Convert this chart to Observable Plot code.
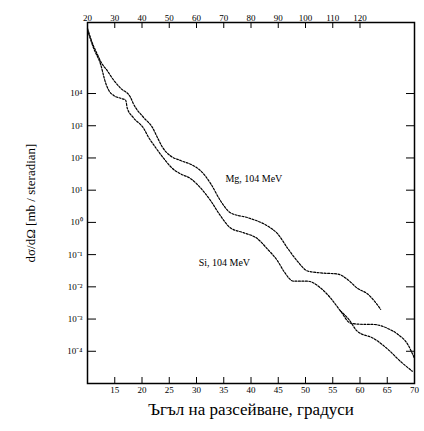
<!DOCTYPE html>
<html>
<head>
<meta charset="utf-8">
<script src="https://cdn.jsdelivr.net/npm/d3@7"></script>
<script src="https://cdn.jsdelivr.net/npm/@observablehq/plot@0.6"></script>
<style>
  body { margin: 0; background: #fff; }
  svg { font-family: "Liberation Serif", serif; }
  g[aria-label="x-axis label"] text { font-size: 17px; }
  g[aria-label="y-axis label"] text { font-size: 13px; }
</style>
</head>
<body>
<div id="chart"></div>
<script>
// Scattering angle (degrees) and cross sections (mb/sr)
const angleA = [10, 11.1, 11.8, 12.4, 13.7, 14.8, 16.1, 17.9, 18.4, 20.3, 21.9, 22.8, 23.8, 25.2, 27.1, 29.4, 30.7, 32.6, 34.4, 36.2, 39.4, 43.0, 44.9, 46.7, 48.5, 50.4, 52.8, 55.9, 57.7, 59.5, 61.4, 63.8];
const sigmaA = [1.05e6, 3.0e5, 1.66e5, 1.0e5, 4.9e4, 2.6e4, 1.45e4, 7.6e3, 4.9e3, 1.8e3, 890, 440, 210, 117, 83, 58, 41, 16, 4.7, 2.0, 1.4, 0.78, 0.44, 0.16, 0.063, 0.031, 0.027, 0.025, 0.017, 0.0091, 0.0060, 0.0020];

const angleB = [10, 11.1, 12.4, 13.3, 13.9, 14.8, 16.1, 17.0, 17.3, 18.4, 20.3, 21.2, 22.5, 24.3, 25.6, 27.1, 28.9, 30.7, 32.6, 34.4, 36.2, 38.6, 41.2, 43.0, 44.9, 46.0, 47.8, 50.4, 52.8, 54.6, 56.4, 58.3, 60.1, 62.5, 65.0, 66.9, 68.7, 70.0];
const sigmaB = [9.3e5, 2.6e5, 8.1e4, 2.2e4, 1.26e4, 8.7e3, 7.1e3, 6.2e3, 3.5e3, 1.8e3, 830, 440, 210, 83, 47, 32, 23, 12, 4.7, 1.6, 0.68, 0.48, 0.31, 0.15, 0.063, 0.031, 0.015, 0.015, 0.0091, 0.0045, 0.0018, 7.4e-4, 6.9e-4, 6.8e-4, 5.2e-4, 3.4e-4, 1.7e-4, 6.0e-5];

const angleC = [56.4, 57.9, 59.5, 62.5, 65.0, 67.4, 69.6];
const sigmaC = [0.0018, 1.0e-3, 4.2e-4, 2.5e-4, 1.2e-4, 4.9e-5, 2.4e-5];

const bottomTicks = [15, 20, 25, 30, 35, 40, 45, 50, 55, 60, 65, 70];
const topTicks = [10, 15, 20, 25, 30, 35, 40, 45, 50, 55, 60];
const topTickLabels = ["20", "30", "40", "50", "60", "70", "80", "90", "100", "110", "120"];
const yTicks = [1e-4, 1e-3, 1e-2, 1e-1, 1, 10, 100, 1e3, 1e4];

const curveLabels = ["Mg, 104 MeV", "Si, 104 MeV"];
const curveLabelAngle = [35.3, 30.4];
const curveLabelSigma = [23, 0.055];

const toRows = (xs, ys, s) => xs.map((x, i) => ({angle: x, sigma: ys[i], series: s}));
const rows = [...toRows(angleA, sigmaA, "A"), ...toRows(angleB, sigmaB, "B"), ...toRows(angleC, sigmaC, "C")];
const labelRows = curveLabels.map((t, i) => ({text: t, angle: curveLabelAngle[i], sigma: curveLabelSigma[i]}));

const sup = {"-": "⁻", "0": "⁰", "1": "¹", "2": "²", "3": "³", "4": "⁴", "5": "⁵", "6": "⁶", "7": "⁷", "8": "⁸", "9": "⁹"};
const fmtPow = d => "10" + String(Math.round(Math.log10(d))).split("").map(c => sup[c]).join("");

const chart = Plot.plot({
  width: 424,
  height: 431,
  marginLeft: 87,
  marginRight: 10,
  marginTop: 22,
  marginBottom: 48,
  style: {fontFamily: "Liberation Serif, serif", fontSize: "9px", color: "#000", background: "#fff"},
  x: {domain: [10, 70]},
  y: {type: "log", domain: [1e-5, 1.6e6]},
  marks: [
    Plot.frame({stroke: "#000", strokeWidth: 1.5}),
    Plot.axisX(bottomTicks, {anchor: "bottom", tickSize: -6, tickPadding: 9, label: "Ъгъл на разсейване, градуси", labelArrow: "none", labelAnchor: "center", labelOffset: 31}),
    Plot.axisX(topTicks, {anchor: "top", tickSize: -5, tickPadding: 7, tickFormat: (d, i) => topTickLabels[i], fill: "#000", label: null}),
    Plot.axisY(yTicks, {anchor: "left", tickSize: -9, tickPadding: 14, tickFormat: fmtPow, label: "dσ/dΩ [mb / steradian]", labelArrow: "none", labelAnchor: "center", labelOffset: 62}),
    Plot.axisY(yTicks, {anchor: "right", tickSize: -9, tickFormat: () => "", label: null}),
    Plot.line(rows, {x: "angle", y: "sigma", z: "series", stroke: "#000", strokeWidth: 1.2, strokeDasharray: "2,1.5", curve: "monotone-x"}),
    Plot.text(labelRows, {x: "angle", y: "sigma", text: "text", textAnchor: "start", fontSize: 10, fill: "#000"})
  ]
});
document.getElementById("chart").appendChild(chart);
</script>
</body>
</html>
